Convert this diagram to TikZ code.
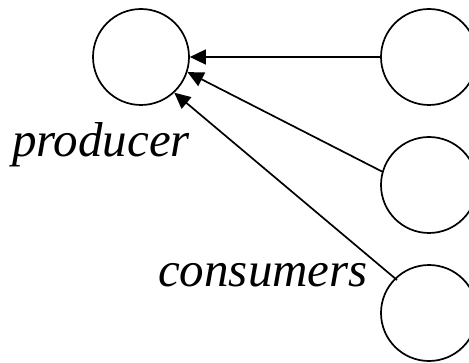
\documentclass[tikz,border=0pt]{standalone}
\usepackage{fontspec}
\setmainfont{Liberation Serif}
\usetikzlibrary{arrows.meta}
\tikzset{
  proc/.style={circle,draw,line width=1.7pt,minimum size=96pt,inner sep=0pt},
  msg/.style={line width=1.7pt,-{Triangle[length=16pt,width=15pt]}},
  lbl/.style={font=\fontsize{49}{53}\selectfont\itshape,inner sep=0pt,anchor=base west}
}
\begin{document}
\begin{tikzpicture}[x=1pt,y=1pt]
\useasboundingbox (0,0) rectangle (469,362);
\node[proc] (p) at (141,305) {};
\node[proc] (c1) at (429,305) {};
\node[proc] (c2) at (429,177) {};
\node[proc] (c3) at (429,49) {};
\coordinate (c3s) at (397,82);
\draw[msg] (c1.180) -- (p.0);
\draw[msg] (c2.164) -- (p.-18);
\draw[msg] (c3s) -- (p.-47);
\node[lbl] (tp) at (12,205) {producer};
\node[lbl] (tc) at (158,75) {consumers};
\end{tikzpicture}
\end{document}
